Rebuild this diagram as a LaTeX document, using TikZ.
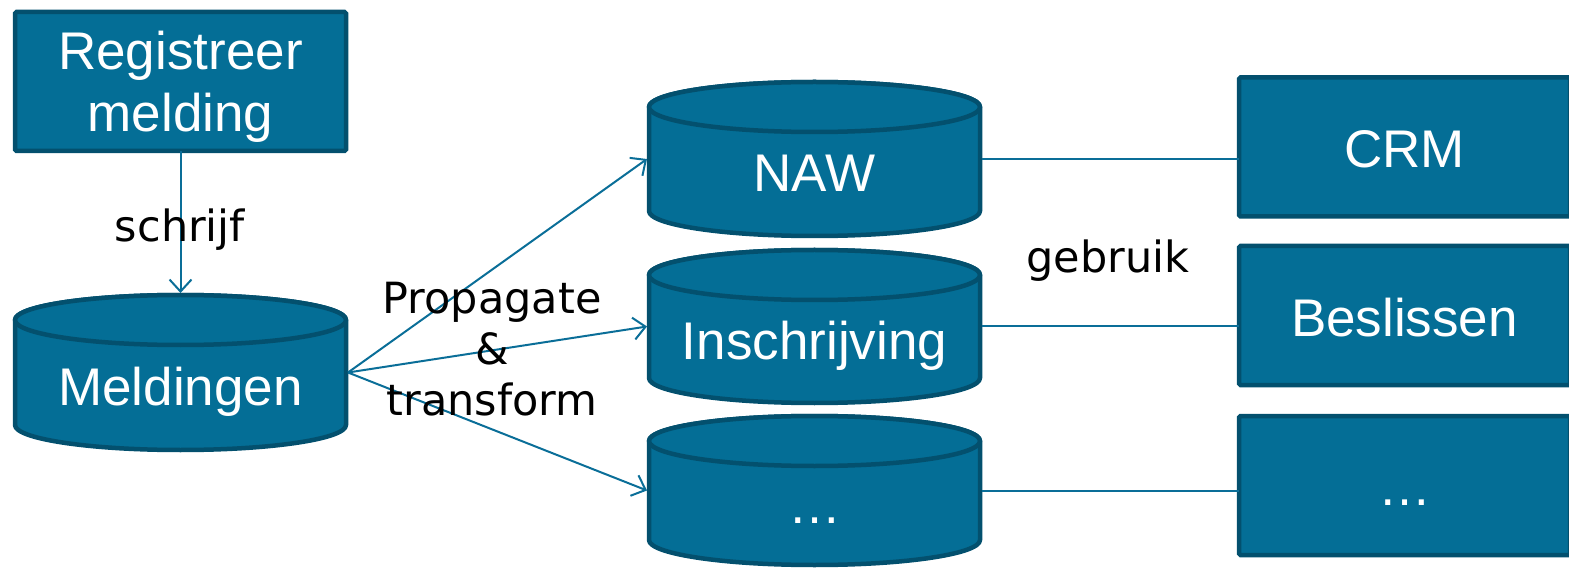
\documentclass[tikz,border=0pt]{standalone}
\usepackage{fontspec}
\setmainfont{Liberation Sans}
\newfontfamily\lblfont{DejaVu Sans}
\usetikzlibrary{arrows.meta}
\definecolor{boxfill}{HTML}{046E96}
\definecolor{boxline}{HTML}{03506E}
\definecolor{connline}{HTML}{0A6E98}
\newcommand\drawcyl[5]{%
  \pgfmathsetmacro\cylL{#2+2}%
  \pgfmathsetmacro\cylR{#2+333}%
  \pgfmathsetmacro\cylM{#2+167.5}%
  \pgfmathsetmacro\cylT{-(#3+27)}%
  \pgfmathsetmacro\cylB{-(#4-27)}%
  \pgfmathsetmacro\cylC{-(#3+#4)/2}%
  \pgfmathsetmacro\cylH{#4-#3}%
  \filldraw[cylbody] (\cylL,\cylT) -- (\cylL,\cylB) arc[start angle=180,end angle=360,x radius=165.5,y radius=25] -- (\cylR,\cylT) arc[start angle=0,end angle=180,x radius=165.5,y radius=25] -- cycle;
  \draw[cylbody] (\cylM,\cylT) ellipse[x radius=165.5,y radius=25];
  \node[cylarea, minimum height=\cylH pt] (#1) at (\cylM,\cylC) {};
  \node[wtext, anchor=base] (#1-t) at (\cylM,\cylC-33) {#5};
}
\begin{document}
\begin{tikzpicture}[x=1pt,y=1pt,
  shapebox/.style={rectangle, draw=boxline, fill=boxfill, line width=4.5pt, rounded corners=1.5pt, minimum width=331pt, minimum height=139pt, outer sep=0pt, inner sep=0pt},
  wtext/.style={text=white, font=\fontsize{53}{62}\selectfont, align=center, inner sep=0pt},
  btext/.style={text=black, font=\lblfont\fontsize{43}{51}\selectfont, align=center, inner sep=0pt},
  cylarea/.style={rectangle, minimum width=335pt, outer sep=0pt, inner sep=0pt},
  cylbody/.style={fill=boxfill, draw=boxline, line width=4.5pt, line join=round},
  conn/.style={draw=connline, line width=2pt, -{Straight Barb[length=12pt,width=22pt,line width=2pt]}},
  plainline/.style={draw=connline, line width=2pt}]
\useasboundingbox (0,0) rectangle (1569,-569);
\clip (0,0) rectangle (1569,-569);
% left column
\node[shapebox] (reg) at (180.5,-81.5) {};
\node[wtext, anchor=base] (reg-t) at (180.5,-132) {Registreer\\melding};
\drawcyl{meld}{13}{293}{452}{Meldingen}
% middle column
\drawcyl{naw}{647}{80}{238}{NAW}
\drawcyl{insch}{647}{248}{405}{Inschrijving}
\drawcyl{dots}{647}{414}{567}{\ldots}
% right column
\node[shapebox] (crm) at (1404.5,-147) {};
\node[wtext, anchor=base] (crm-t) at (1404.5,-168) {CRM};
\node[shapebox] (besl) at (1404.5,-315.5) {};
\node[wtext, anchor=base] (besl-t) at (1404.5,-337) {Beslissen};
\node[shapebox] (rdots) at (1404.5,-485.5) {};
\node[wtext, anchor=base] (rdots-t) at (1404.5,-505) {\ldots};
% connectors
\draw[conn] (reg.south) -- (meld.north);
\draw[conn] (meld.east) -- (naw.west);
\draw[conn] (meld.east) -- (insch.west);
\draw[conn] (meld.east) -- (dots.west);
\draw[plainline] (naw.east) -- (naw.east -| crm.west);
\draw[plainline] (insch.east) -- (insch.east -| besl.west);
\draw[plainline] (dots.east) -- (dots.east -| rdots.west);
% labels
\node[btext] (schrijf) at (180,-230) {schrijf};
\node[btext] (prop) at (492,-349) {Propagate\\\&\\transform};
\node[btext] (gebruik) at (1108,-261) {gebruik};
\end{tikzpicture}
\end{document}
